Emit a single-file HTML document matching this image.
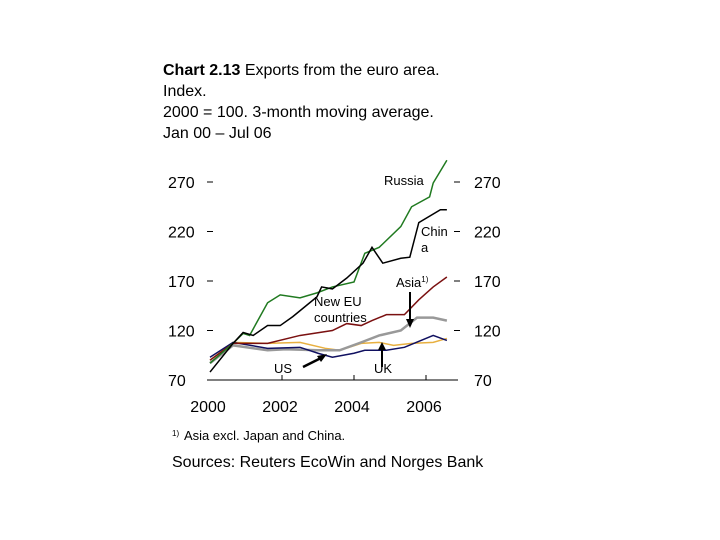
<!DOCTYPE html>
<html><head><meta charset="utf-8"><style>
body{margin:0;background:#fff;}
svg{display:block;font-family:"Liberation Sans",Arial,sans-serif;}
</style></head><body>
<svg id="c" width="720" height="540" viewBox="0 0 720 540">
<g font-size="16" fill="#000">
<text x="163" y="75"><tspan font-weight="bold">Chart 2.13</tspan> Exports from the euro area.</text>
<text x="163" y="96">Index.</text>
<text x="163" y="117">2000 = 100. 3-month moving average.</text>
<text x="163" y="138">Jan 00 – Jul 06</text>
</g>
<g id="axes"></g>
<g id="series"></g>
<g font-size="13" fill="#000">
<text x="384" y="185">Russia</text>
<text x="421" y="236">Chin</text>
<text x="421" y="252">a</text>
<text x="396" y="287">Asia<tspan font-size="8" dy="-5">1)</tspan></text>
<text x="314" y="306">New EU</text>
<text x="314" y="322">countries</text>
<text x="274" y="373">US</text>
<text x="374" y="373">UK</text>
<line x1="303" y1="367" x2="323" y2="357" stroke="#000" stroke-width="2.5"/>
<polygon points="327,354 317,356 321,362" fill="#000"/>
<line x1="410" y1="292" x2="410" y2="322" stroke="#000" stroke-width="2"/>
<polygon points="410,328 406,319 414,319" fill="#000"/>
<line x1="382" y1="367" x2="382" y2="347" stroke="#000" stroke-width="2"/>
<polygon points="382,342 378,350 386,350" fill="#000"/>
</g>
<g fill="#000">
<text x="172" y="436" font-size="8">1)</text>
<text x="184" y="440" font-size="13">Asia excl. Japan and China.</text>
<text x="172" y="467" font-size="16">Sources: Reuters EcoWin and Norges Bank</text>
</g>
</svg>
<script>
const yTicks=[70,120,170,220,270];
const xTickYears=[2000,2002,2004,2006];
const t_russia=[0,0.64,0.92,1.1,1.6,1.95,2.5,2.97,3.4,4.0,4.3,4.7,5.3,5.6,6.1,6.2,6.58];
const russia=[87,107,117,115,148,156,153,158,164,169,198,204,225,245,255,269,292];
const t_china=[0,0.64,0.92,1.2,1.6,1.95,2.3,2.97,3.1,3.4,3.8,4.25,4.5,4.8,5.3,5.55,5.8,6.4,6.58];
const china=[78,107,118,115,125,125,134,154,164,162,173,188,204,188,193,194,229,242,242];
const t_asia=[0,0.64,1.6,2.5,3.4,3.8,4.2,4.5,4.9,5.4,5.8,6.2,6.58];
const asia=[90,107,107,115,120,127,125,130,136,136,151,164,174];
const t_neweu=[0,0.64,1.6,2.1,3.0,3.6,4.2,4.7,5.3,5.75,6.2,6.58];
const neweu=[87,105,100,101,100,100,108,115,120,133,133,130];
const t_us=[0,0.64,1.6,2.5,3.0,3.4,4.0,4.3,4.9,5.4,6.2,6.58];
const us=[93,108,102,103,97,93,97,100,100,103,115,110];
const t_uk=[0,0.64,1.6,2.5,3.2,3.6,4.2,4.7,5.1,5.6,6.2,6.58];
const uk=[90,108,107,108,102,100,107,108,105,107,108,112];
const NS="http://www.w3.org/2000/svg";
function xs(t){return 210+t*36;}
function ys(v){return 380-(v-70)*0.99;}
function mk(tag,attrs,parent){const e=document.createElementNS(NS,tag);for(const k in attrs)e.setAttribute(k,attrs[k]);parent.appendChild(e);return e;}
const ax=document.getElementById('axes');
const base=mk('line',{x1:207,y1:380,x2:458,y2:380,stroke:'#000','stroke-width':1},ax);


xTickYears.forEach(yr=>{
  const x=xs(yr-2000);
  if(yr>2000){const tk=mk('line',{x1:x,y1:380,x2:x,y2:375,stroke:'#000'},ax);
  
  }
  const tx=mk('text',{x:x-2,y:412,'font-size':16,'text-anchor':'middle'},ax);tx.textContent=yr;
  
  
});
yTicks.forEach(v=>{
  const y=ys(v);
  const l=mk('text',{x:168,y:y+6,'font-size':16},ax);l.textContent=v;
  
  
  const r=mk('text',{x:474,y:y+6,'font-size':16},ax);r.textContent=v;
  
  
  if(v>70){
    const d1=mk('line',{x1:207,y1:y,x2:213,y2:y,stroke:'#000'},ax);
    
    
    const d2=mk('line',{x1:454,y1:y,x2:460,y2:y,stroke:'#000'},ax);
    
    
  }
});
const sg=document.getElementById('series');
function line(ts,vs,color,w,name){
  const p=mk('polyline',{points:ts.map((t,i)=>xs(t)+','+ys(vs[i])).join(' '),fill:'none',stroke:color,'stroke-width':w},sg);
  
  
}
line(t_uk,uk,'#e8b040',1.5,'uk-line');
line(t_neweu,neweu,'#999999',2.5,'new-eu-line');
line(t_us,us,'#101060',1.5,'us-line');
line(t_asia,asia,'#7a1010',1.5,'asia-line');
line(t_russia,russia,'#207a20',1.5,'russia-line');
line(t_china,china,'#000000',1.5,'china-line');
</script>
</body></html>
